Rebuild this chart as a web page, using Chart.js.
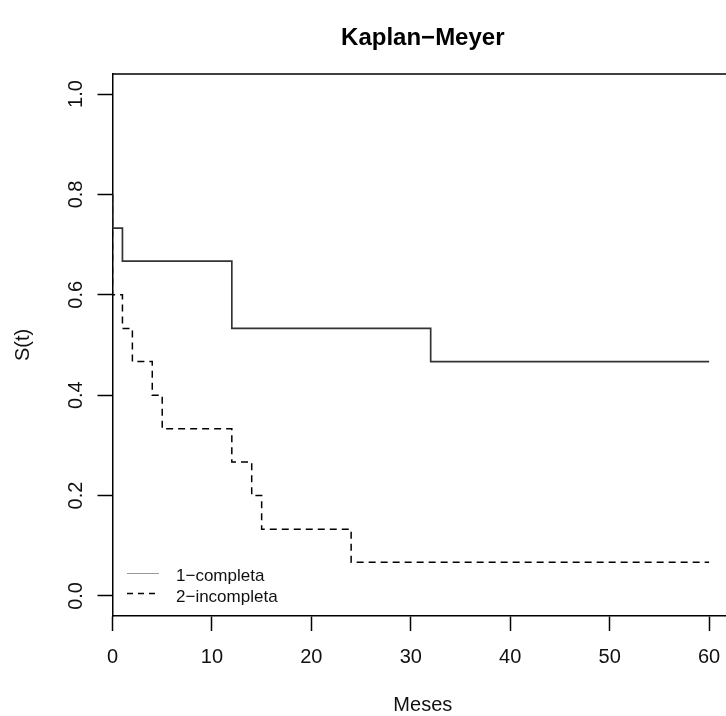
<!DOCTYPE html>
<html>
<head>
<meta charset="utf-8">
<script src="https://cdn.jsdelivr.net/npm/chart.js@4/dist/chart.umd.min.js"></script>
<style>
html,body{margin:0;padding:0;background:#fff;overflow:hidden;}
canvas{display:block;}
</style>
</head>
<body>
<canvas id="c" width="726" height="716"></canvas>
<script>
const chartTitle = 'Kaplan\u2212Meyer';
const xTitle = 'Meses';
const yTitle = 'S(t)';
const xTicks = [0, 10, 20, 30, 40, 50, 60];
const xTickLabels = ['0', '10', '20', '30', '40', '50', '60'];
const yTicks = [0.0, 0.2, 0.4, 0.6, 0.8, 1.0];
const yTickLabels = ['0.0', '0.2', '0.4', '0.6', '0.8', '1.0'];
const seriesLabels = ['1\u2212completa', '2\u2212incompleta'];
const timesCompleta = [0, 0, 1, 12, 32, 60];
const survCompleta = [0.8, 0.733, 0.667, 0.533, 0.467, 0.467];
const timesIncompleta = [0, 0, 1, 2, 4, 5, 12, 14, 15, 24, 60];
const survIncompleta = [0.8, 0.6, 0.533, 0.467, 0.4, 0.333, 0.267, 0.2, 0.133, 0.067, 0.067];

const FONT = '"Liberation Sans", Arial, sans-serif';

const decor = {
  id: 'decor',
  afterDraw(chart) {
    const ctx = chart.ctx;
    const a = chart.chartArea;
    const xs = chart.scales.x, ys = chart.scales.y;
    ctx.save();
    // top border
    ctx.strokeStyle = '#000';
    ctx.lineWidth = 1.5;
    ctx.beginPath();
    ctx.moveTo(a.left, a.top);
    ctx.lineTo(a.right, a.top);
    ctx.stroke();
    // title
    const cx = a.left + (xs.getPixelForValue(60) + 24 - a.left) / 2;
    ctx.fillStyle = '#000';
    ctx.textAlign = 'center';
    ctx.textBaseline = 'middle';
    ctx.font = 'bold 24px ' + FONT;
    ctx.fillText(chartTitle, cx, 38);
    // x tick labels
    ctx.font = '20px ' + FONT;
    ctx.fillStyle = '#111';
    xTicks.forEach((v, i) => {
      ctx.fillText(xTickLabels[i], xs.getPixelForValue(v), 657);
    });
    // x title
    ctx.fillText(xTitle, cx, 705);
    // y tick labels (rotated)
    yTicks.forEach((v, i) => {
      ctx.save();
      ctx.translate(76, ys.getPixelForValue(v));
      ctx.rotate(-Math.PI / 2);
      ctx.fillText(yTickLabels[i], 0, 0);
      ctx.restore();
    });
    // y title
    ctx.save();
    ctx.translate(23, 345);
    ctx.rotate(-Math.PI / 2);
    ctx.fillText(yTitle, 0, 0);
    ctx.restore();
    // legend
    ctx.font = '17px ' + FONT;
    ctx.textAlign = 'left';
    ctx.strokeStyle = '#999';
    ctx.lineWidth = 1;
    ctx.beginPath();
    ctx.moveTo(127, 573.5);
    ctx.lineTo(159, 573.5);
    ctx.stroke();
    ctx.strokeStyle = '#000';
    ctx.lineWidth = 1.5;
    ctx.setLineDash([6, 5]);
    ctx.beginPath();
    ctx.moveTo(127, 593.5);
    ctx.lineTo(160, 593.5);
    ctx.stroke();
    ctx.setLineDash([]);
    ctx.fillStyle = '#111';
    ctx.fillText(seriesLabels[0], 176, 576);
    ctx.fillText(seriesLabels[1], 176, 597);
    ctx.restore();
  }
};

const toPts = (t, s) => t.map((v, i) => ({ x: v, y: s[i] }));

new Chart(document.getElementById('c'), {
  type: 'line',
  data: {
    datasets: [
      {
        label: seriesLabels[0],
        data: toPts(timesCompleta, survCompleta),
        stepped: true,
        borderColor: '#333',
        borderWidth: 1.7,
        pointRadius: 0,
        fill: false
      },
      {
        label: seriesLabels[1],
        data: toPts(timesIncompleta, survIncompleta),
        stepped: true,
        borderColor: '#000',
        borderWidth: 1.5,
        borderDash: [7, 5],
        pointRadius: 0,
        fill: false
      }
    ]
  },
  options: {
    responsive: false,
    animation: false,
    parsing: true,
    layout: { padding: { top: 74, left: 0, right: 0, bottom: 0 } },
    plugins: { legend: { display: false }, title: { display: false }, tooltip: { enabled: false } },
    scales: {
      x: {
        type: 'linear',
        min: 0,
        max: 61.7,
        afterBuildTicks: s => { s.ticks = xTicks.map(v => ({ value: v })); },
        afterFit: s => { s.height = 100; },
        ticks: { display: false },
        grid: { drawOnChartArea: false, drawTicks: true, tickLength: 15, tickColor: '#000', tickWidth: 1.5 },
        border: { display: true, color: '#000', width: 1.5 }
      },
      y: {
        type: 'linear',
        min: -0.04,
        max: 1.04,
        afterBuildTicks: s => { s.ticks = yTicks.map(v => ({ value: v })); },
        afterFit: s => { s.width = 112.5; },
        ticks: { display: false },
        grid: { drawOnChartArea: false, drawTicks: true, tickLength: 15, tickColor: '#000', tickWidth: 1.5 },
        border: { display: true, color: '#000', width: 1.5 }
      }
    }
  },
  plugins: [decor]
});
</script>
</body>
</html>
